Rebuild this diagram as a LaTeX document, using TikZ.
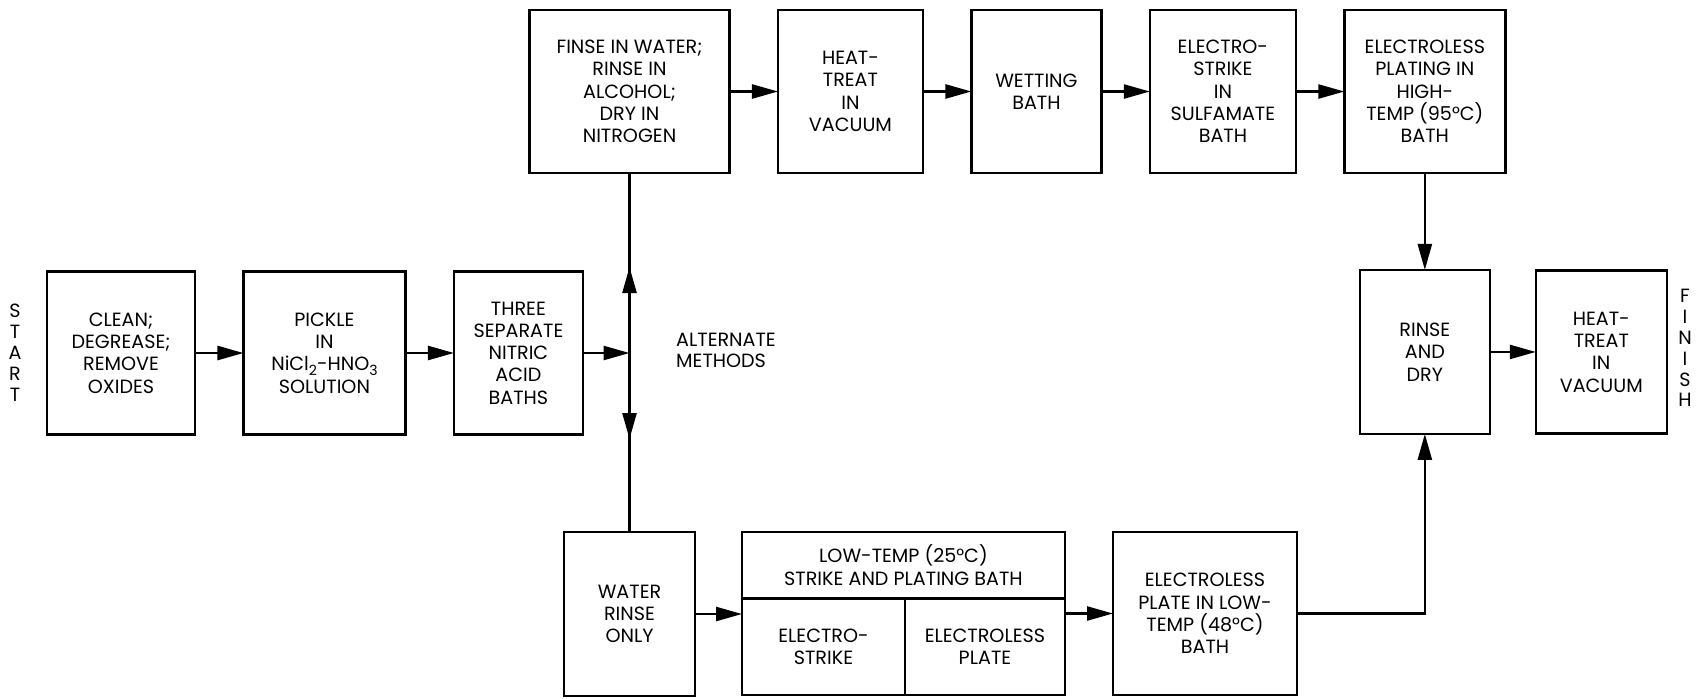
\documentclass[tikz,border=0pt]{standalone}
\usepackage{fontspec}
\setmainfont{Poppins}
\usetikzlibrary{arrows.meta,positioning}

\newcommand{\lowidx}[1]{\raisebox{-0.45ex}{\fontsize{8}{8}\selectfont #1}}

\begin{document}
\begin{tikzpicture}[
    x=0.02cm, y=-0.02cm,
    node distance=0.97cm,
    box/.style={
      rectangle, draw=black, line width=1.4pt, inner sep=0pt, outer sep=0pt,
      align=center, font=\fontsize{10.9}{12.7}\selectfont,
      minimum height=3.26cm
    },
    side/.style={align=center, font=\fontsize{10.9}{11.9}\selectfont},
    arrow/.style={-{Triangle[length=0.52cm,width=0.28cm]}, line width=1.4pt}
  ]
  \useasboundingbox (0,0) rectangle (1705,698);

  % main line
  \node[side] (start) at (15,353) {S\\T\\A\\R\\T};
  \node[box, minimum width=2.96cm] (clean) at (121,353) {CLEAN;\\DEGREASE;\\REMOVE\\OXIDES};
  \node[box, minimum width=3.24cm, right=of clean] (pickle) {PICKLE\\IN\\NiCl\lowidx{2}-HNO\lowidx{3}\\SOLUTION};
  \node[box, minimum width=2.58cm, right=of pickle] (acid) {THREE\\SEPARATE\\NITRIC\\ACID\\BATHS};
  \coordinate (split) at (629.5,353);
  \coordinate (uptip) at (629.5,267);
  \coordinate (dntip) at (629.5,439);
  \node[side, anchor=west, align=left] (alt) at (670,350) {ALTERNATE\\METHODS};

  % upper route
  \node[box, minimum width=4cm] (rinse) at (629.5,91.5) {FINSE IN WATER;\\RINSE IN\\ALCOHOL;\\DRY IN\\NITROGEN};
  \node[box, minimum width=2.9cm, right=of rinse] (vac) {HEAT-\\TREAT\\IN\\VACUUM};
  \node[box, minimum width=2.6cm, right=of vac] (wet) {WETTING\\BATH};
  \node[box, minimum width=2.92cm, right=of wet] (sulf) {ELECTRO-\\STRIKE\\IN\\SULFAMATE\\BATH};
  \node[box, minimum width=3.22cm, right=of sulf] (hot) {ELECTROLESS\\PLATING IN\\HIGH-\\TEMP (95°C)\\BATH};

  % end
  \node[box, minimum width=2.6cm, minimum height=3.28cm, below=1.94cm of hot] (dry) {RINSE\\AND\\DRY};
  \node[box, minimum width=2.62cm, right=0.92cm of dry] (final) {HEAT-\\TREAT\\IN\\VACUUM};
  \node[side] (finish) at (1685,348) {F\\I\\N\\I\\S\\H};

  % lower route
  \node[box, minimum width=2.62cm, minimum height=3.28cm] (water) at (629.5,614) {WATER\\RINSE\\ONLY};
  \node[box, minimum width=6.46cm, minimum height=1.33cm, anchor=north west] (low) at (742,532) {LOW-TEMP (25°C)\\STRIKE AND PLATING BATH};
  \node[box, minimum width=3.26cm, minimum height=1.93cm, anchor=north west] (strike) at (low.south west) {ELECTRO-\\STRIKE};
  \node[box, minimum width=3.2cm, minimum height=1.93cm, anchor=north east] (plate) at (low.south east) {ELECTROLESS\\PLATE};
  \node[box, minimum width=3.68cm] (cold) at (1205,613.5) {ELECTROLESS\\PLATE IN LOW-\\TEMP (48°C)\\BATH};

  \draw[arrow] (clean) -- (pickle);
  \draw[arrow] (pickle) -- (acid);
  \draw[arrow] (acid) -- (split);
  \draw[line width=1.4pt] (rinse) -- (water);
  \draw[arrow] (split) -- (uptip);
  \draw[arrow] (split) -- (dntip);

  \draw[arrow] (rinse) -- (vac);
  \draw[arrow] (vac) -- (wet);
  \draw[arrow] (wet) -- (sulf);
  \draw[arrow] (sulf) -- (hot);
  \draw[arrow] (hot) -- (dry);
  \draw[arrow] (dry) -- (final);

  \draw[arrow] (water) -- (water -| strike.west);
  \draw[arrow] (plate.east |- cold) -- (cold);
  \draw[arrow] (cold) -| (dry);
\end{tikzpicture}
\end{document}
